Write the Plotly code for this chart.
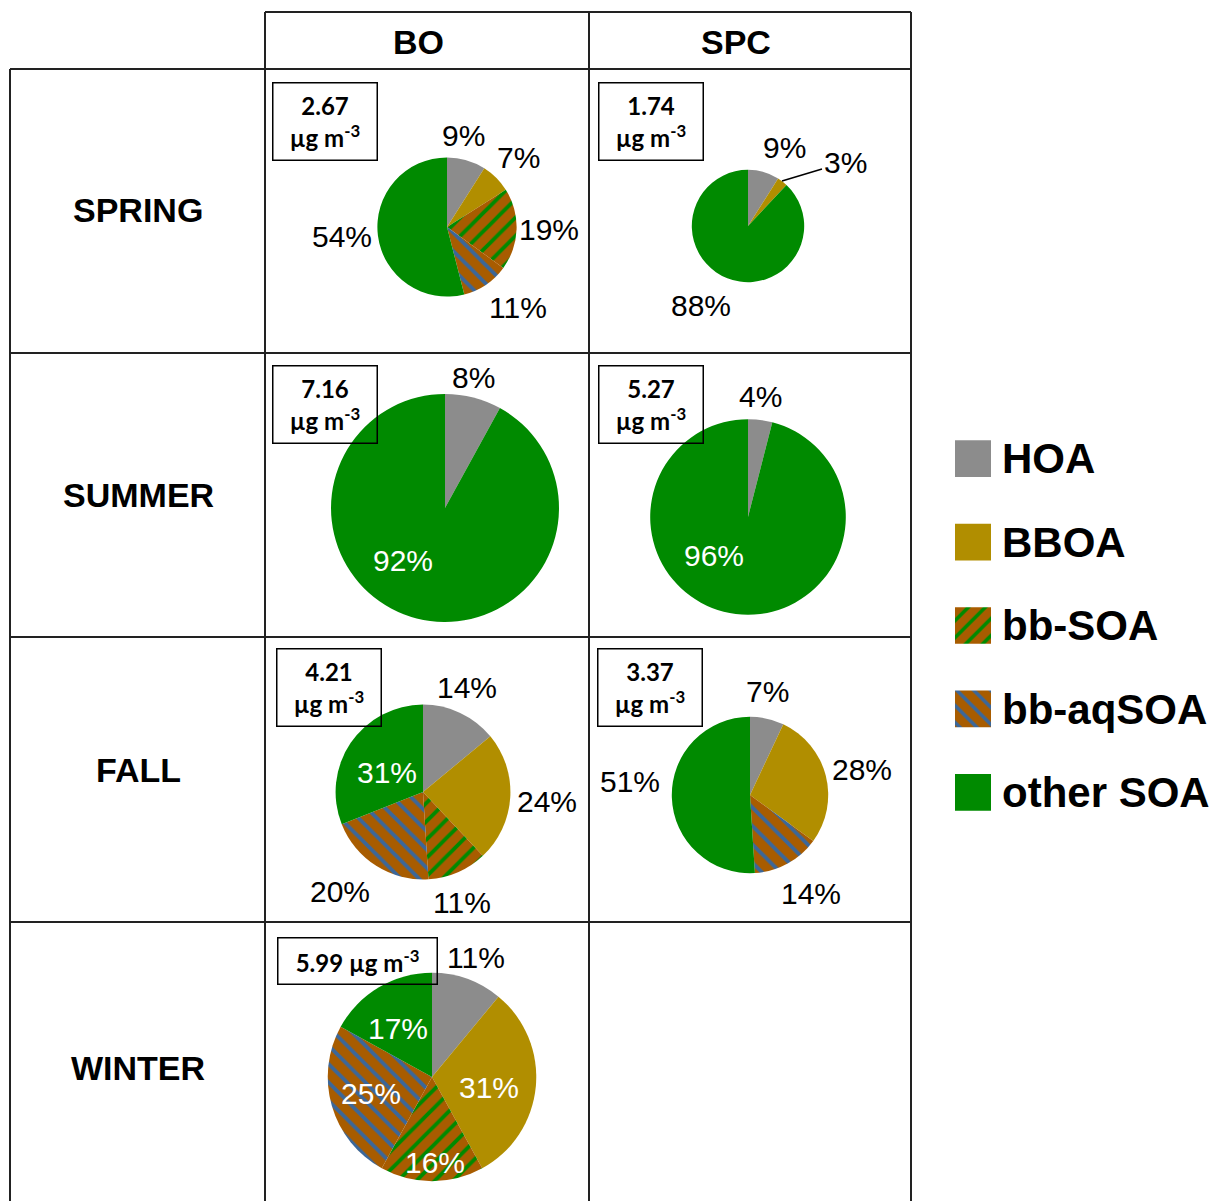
import plotly.graph_objects as go

# ---- data ----
categories = ["HOA", "BBOA", "bb-SOA", "bb-aqSOA", "other SOA"]
sites = ["BO", "SPC"]
seasons = ["SPRING", "SUMMER", "FALL", "WINTER"]

# percent contribution of each factor (same order as categories), 0 = not resolved
bo_spring = [9, 7, 19, 11, 54]
bo_summer = [8, 0, 0, 0, 92]
bo_fall = [14, 24, 11, 20, 31]
bo_winter = [11, 31, 16, 25, 17]
spc_spring = [9, 3, 0, 0, 88]
spc_summer = [4, 0, 0, 0, 96]
spc_fall = [7, 28, 0, 14, 51]

# total OA mass (ug m-3)
bo_mass = [2.67, 7.16, 4.21, 5.99]
spc_mass = [1.74, 5.27, 3.37]

# ---- styling ----
W, H = 1219, 1201
OFF = 8  # page body margin
fill_colors = ['#8c8c8c', '#b18e00', '#a85c00', '#a85c00', '#008a00']
pattern_shapes = ['', '', '/', '\\', '']
pattern_fg = ['#8c8c8c', '#b18e00', '#008a00', '#3b679a', '#008a00']
line_color = '#222222'
pct_font = "Liberation Sans, Arial, sans-serif"
head_font = "Liberation Sans, Arial, sans-serif"
box_font = "Lato, Liberation Sans, sans-serif"

# pie centre (px), label centres (px, per category, None = no label),
# slices whose label is white, concentration box centre
panels = [
    dict(vals=bo_spring, mass=bo_mass[0], c=(447, 227), inside=[], box=(325, 121, 1),
         lab=[(463, 135), (518, 157), (549, 229), (518, 307), (342, 236)]),
    dict(vals=bo_summer, mass=bo_mass[1], c=(445, 508), inside=[4], box=(325, 404, 1),
         lab=[(473, 377), None, None, None, (403, 560)]),
    dict(vals=bo_fall, mass=bo_mass[2], c=(423, 792), inside=[4], box=(329, 687, 1),
         lab=[(467, 687), (547, 801), (462, 902), (340, 891), (387, 772)]),
    dict(vals=bo_winter, mass=bo_mass[3], c=(432, 1077), inside=[1, 2, 3, 4], box=(357, 961, 0),
         lab=[(476, 957), (489, 1087), (435, 1162), (371, 1093), (398, 1028)]),
    dict(vals=spc_spring, mass=spc_mass[0], c=(748, 226), inside=[], box=(651, 121, 1),
         lab=[(784, 147), (845, 162), None, None, (701, 305)]),
    dict(vals=spc_summer, mass=spc_mass[1], c=(748, 517), inside=[4], box=(651, 404, 1),
         lab=[(760, 397), None, None, None, (714, 555)]),
    dict(vals=spc_fall, mass=spc_mass[2], c=(750, 795), inside=[], box=(650, 687, 1),
         lab=[(767, 692), (862, 769), None, (811, 893), (630, 781)]),
]
# small slice whose label needs a leader line: (panel, slice, line start px)
leaders = [(4, 1, (782, 181))]
r_scale = 42.6  # px per sqrt(ug m-3): pie area proportional to mass


def px(x):
    return (x - OFF) / (W - OFF)


def py(y):
    return 1 - (y - OFF) / (H - OFF)


fig = go.Figure()

for k, p in enumerate(panels):
    r = r_scale * p['mass'] ** 0.5
    cx, cy = p['c']
    vals = [v if v > 0 else None for v in p['vals']]
    fig.add_trace(go.Pie(
        labels=categories,
        values=vals,
        sort=False,
        direction='clockwise',
        rotation=0,
        textinfo='none',
        hovertemplate='%{label}: %{value}%<extra></extra>',
        marker=dict(colors=fill_colors,
                    line=dict(width=0),
                    pattern=dict(shape=pattern_shapes, fgcolor=pattern_fg,
                                 bgcolor=fill_colors, fillmode='replace',
                                 size=13, solidity=0.3)),
        domain=dict(x=[px(cx - r), px(cx + r)], y=[py(cy + r), py(cy - r)]),
        showlegend=False,
    ))
    # percent labels
    for i, v in enumerate(p['vals']):
        if v <= 0 or p['lab'][i] is None:
            continue
        lx, ly = p['lab'][i]
        color = 'white' if i in p['inside'] else 'black'
        lead = [l for l in leaders if l[0] == k and l[1] == i]
        if lead:
            sx, sy = lead[0][2]
            fig.add_annotation(x=px(sx), y=py(sy), xref='paper', yref='paper',
                               ax=lx - sx, ay=ly - sy, text=f"{v}%", showarrow=True,
                               arrowhead=0, arrowwidth=1.5, arrowcolor='black',
                               font=dict(family=pct_font, size=30, color=color))
        else:
            fig.add_annotation(x=px(lx), y=py(ly), xref='paper', yref='paper',
                               xanchor='center', yanchor='middle',
                               text=f"{v}%", showarrow=False,
                               font=dict(family=pct_font, size=30, color=color))
    # concentration box
    bx, by, two_line = p['box']
    if two_line:
        txt = f"<b>{p['mass']:.2f}<br>µg m<sup>-3</sup></b>"
        w, h = 103, 76
    else:
        txt = f"<b>{p['mass']:.2f} µg m<sup>-3</sup></b>"
        w, h = 158, 45
    fig.add_annotation(x=px(bx), y=py(by), xref='paper', yref='paper',
                       xanchor='center', yanchor='middle',
                       text=txt, showarrow=False, width=w, height=h,
                       bordercolor='black', borderwidth=1.5, borderpad=0,
                       font=dict(family=box_font, size=24, color='black'))

# legend swatches drawn as bars (one trace per factor) so the hatches show up
for i, cat in enumerate(categories):
    fig.add_trace(go.Bar(
        x=[1], y=[i], orientation='h', width=0.44, name=cat,
        marker=dict(color=fill_colors[i], line=dict(width=0),
                    pattern=dict(shape=pattern_shapes[i], fgcolor=pattern_fg[i],
                                 bgcolor=fill_colors[i], fillmode='replace',
                                 size=12, solidity=0.3)),
        xaxis='x', yaxis='y', showlegend=False, hoverinfo='skip'))

fig.update_layout(
    barmode='overlay',
    xaxis=dict(domain=[px(955), px(991)], range=[0, 1], visible=False, fixedrange=True),
    yaxis=dict(domain=[py(834), py(417)], range=[len(categories) - 0.5, -0.5],
               anchor='x', side='right', showgrid=False, zeroline=False, showline=False,
               tickvals=list(range(len(categories))),
               ticktext=[f"<b>{c}</b>" for c in categories],
               ticklabelstandoff=10, fixedrange=True,
               tickfont=dict(family=head_font, size=42, color='black')),
)

# table grid
col_x = [10, 265, 589, 911]
row_y = [12, 69, 353, 637, 922, 1201]
shapes = []
for i, y in enumerate(row_y[:-1]):
    x0 = col_x[1] if i == 0 else col_x[0]
    shapes.append(dict(type='line', xref='paper', yref='paper', x0=px(x0), x1=px(col_x[-1]),
                       y0=py(y), y1=py(y), line=dict(color=line_color, width=2)))
for j, x in enumerate(col_x):
    y0 = row_y[1] if j == 0 else row_y[0]
    shapes.append(dict(type='line', xref='paper', yref='paper', x0=px(x), x1=px(x),
                       y0=py(y0), y1=py(row_y[-1] + OFF), line=dict(color=line_color, width=2)))
fig.update_layout(shapes=shapes)

site_x = [418, 736]
for s, xx in zip(sites, site_x):
    fig.add_annotation(x=px(xx), y=py(42),
                       xref='paper', yref='paper', xanchor='center', yanchor='middle',
                       text=f"<b>{s}</b>", showarrow=False,
                       font=dict(family=head_font, size=34, color='black'))
season_y = [210, 495, 770, 1068]
for s, yy in zip(seasons, season_y):
    fig.add_annotation(x=px(138), y=py(yy), xref='paper', yref='paper',
                       xanchor='center', yanchor='middle',
                       text=f"<b>{s}</b>", showarrow=False,
                       font=dict(family=head_font, size=34, color='black'))

fig.update_layout(
    width=W - OFF, height=H - OFF,
    margin=dict(l=0, r=0, t=0, b=0),
    paper_bgcolor='white', plot_bgcolor='white',
)

fig.write_html("out.html")
